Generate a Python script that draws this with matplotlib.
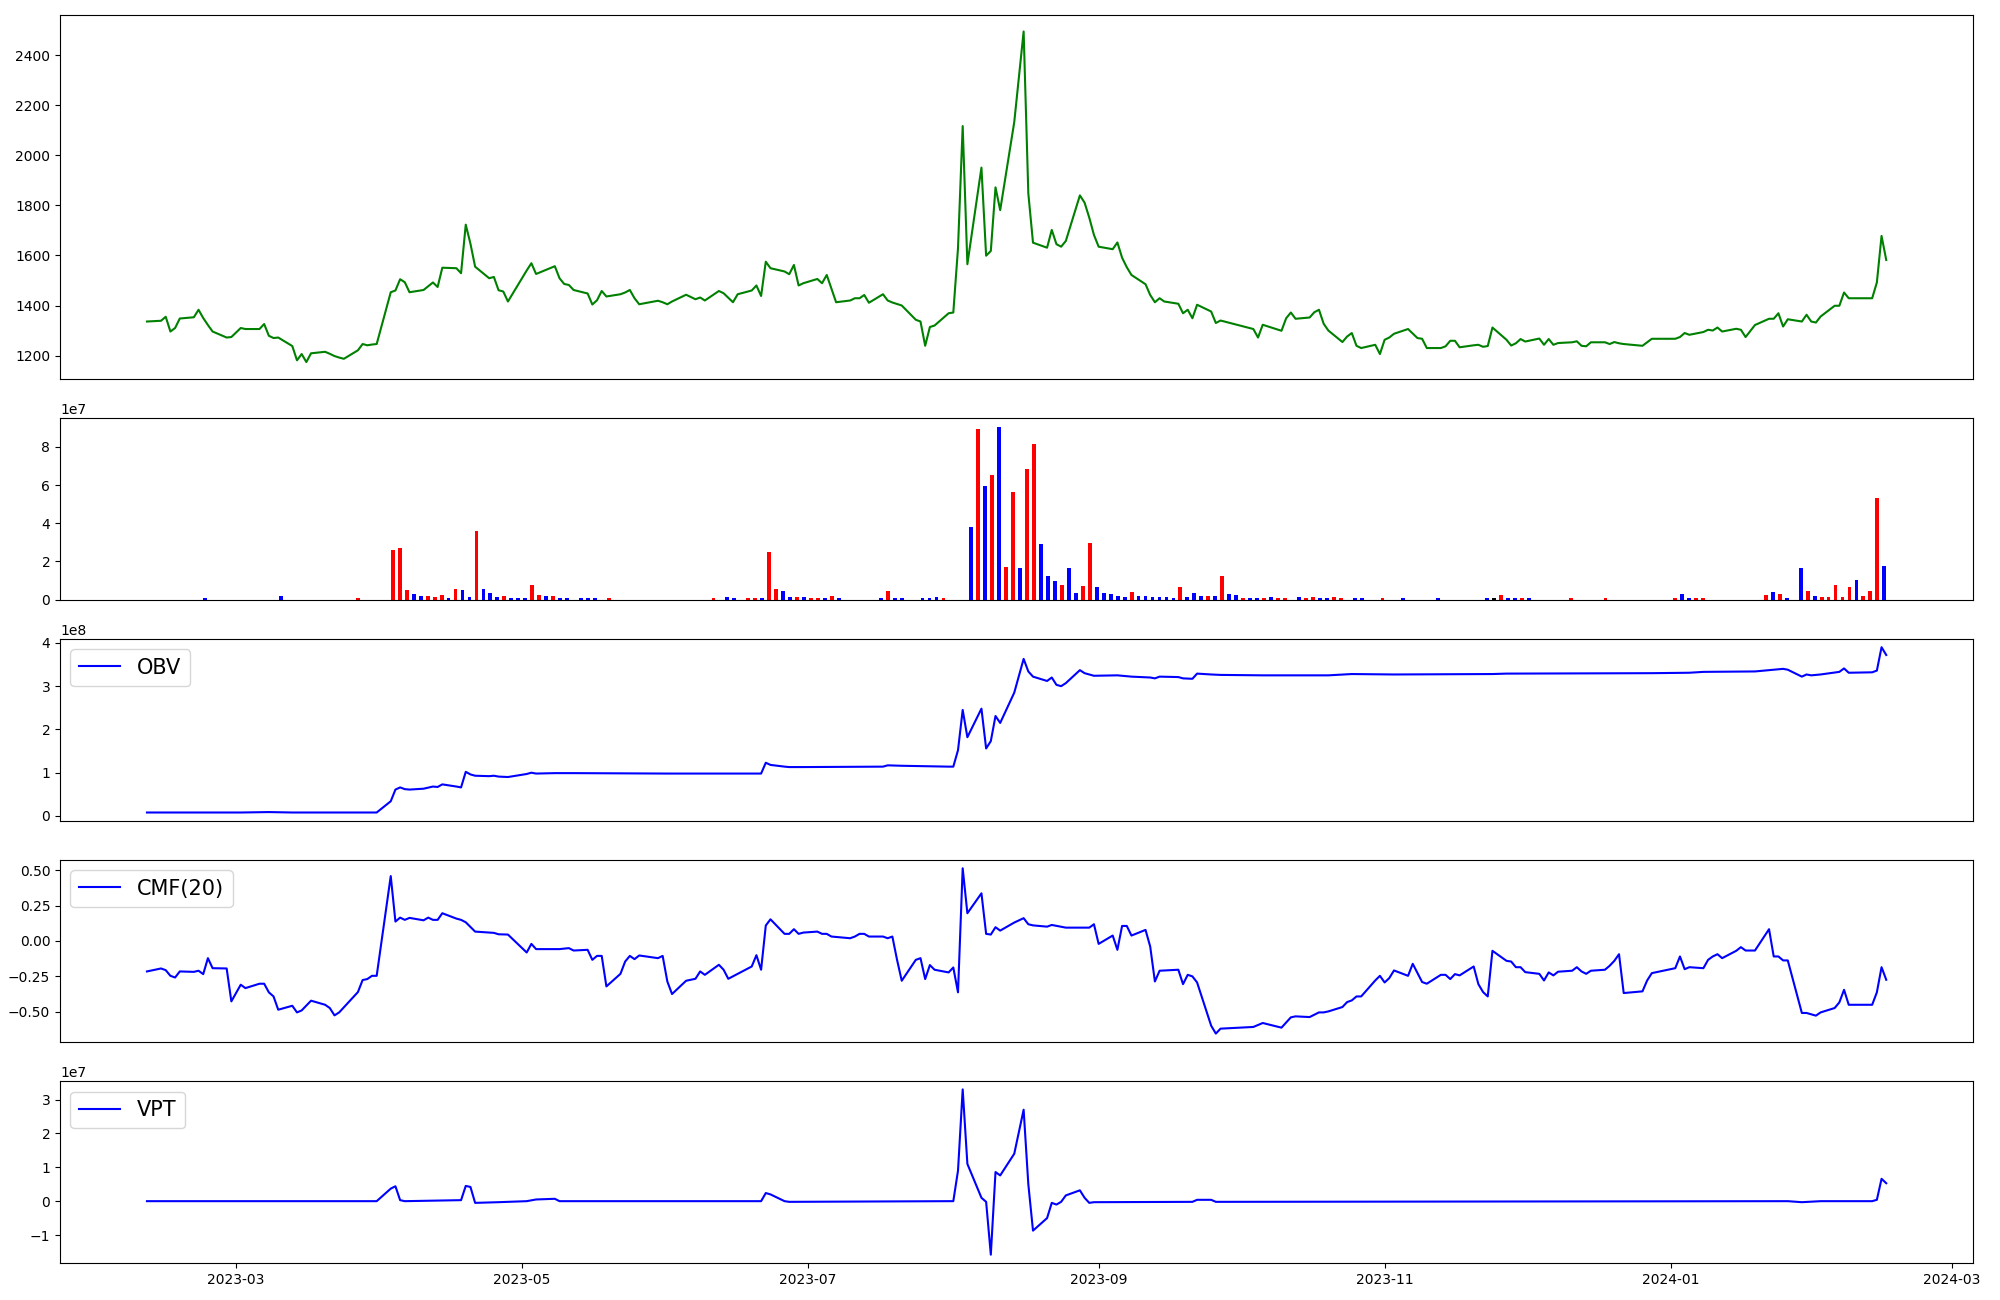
import matplotlib
matplotlib.use("Agg")
import matplotlib.pyplot as plt
import numpy as np
import pandas as pd

# ---------------- data ----------------
price_dates = [
    "2023-02-10","2023-02-13","2023-02-14","2023-02-15","2023-02-16","2023-02-17","2023-02-20","2023-02-21",
    "2023-02-22","2023-02-23","2023-02-24","2023-02-27","2023-02-28","2023-03-02","2023-03-03","2023-03-06",
    "2023-03-07","2023-03-08","2023-03-09","2023-03-10","2023-03-13","2023-03-14","2023-03-15","2023-03-16",
    "2023-03-17","2023-03-20","2023-03-21","2023-03-22","2023-03-23","2023-03-24","2023-03-27","2023-03-28",
    "2023-03-29","2023-03-30","2023-03-31","2023-04-03","2023-04-04","2023-04-05","2023-04-06","2023-04-07",
    "2023-04-10","2023-04-11","2023-04-12","2023-04-13","2023-04-14","2023-04-17","2023-04-18","2023-04-19",
    "2023-04-20","2023-04-21","2023-04-24","2023-04-25","2023-04-26","2023-04-27","2023-04-28","2023-05-02",
    "2023-05-03","2023-05-04","2023-05-08","2023-05-09","2023-05-10","2023-05-11","2023-05-12","2023-05-15",
    "2023-05-16","2023-05-17","2023-05-18","2023-05-19","2023-05-22","2023-05-23","2023-05-24","2023-05-25",
    "2023-05-26","2023-05-30","2023-05-31","2023-06-01","2023-06-02","2023-06-05","2023-06-07","2023-06-08",
    "2023-06-09","2023-06-12","2023-06-13","2023-06-14","2023-06-15","2023-06-16","2023-06-19","2023-06-20",
    "2023-06-21","2023-06-22","2023-06-23","2023-06-26","2023-06-27","2023-06-28","2023-06-29","2023-06-30",
    "2023-07-03","2023-07-04","2023-07-05","2023-07-06","2023-07-07","2023-07-10","2023-07-11","2023-07-12",
    "2023-07-13","2023-07-14","2023-07-17","2023-07-18","2023-07-19","2023-07-20","2023-07-21","2023-07-24",
    "2023-07-25","2023-07-26","2023-07-27","2023-07-28","2023-07-31","2023-08-01","2023-08-02","2023-08-03",
    "2023-08-04","2023-08-07","2023-08-08","2023-08-09","2023-08-10","2023-08-11","2023-08-14","2023-08-16",
    "2023-08-17","2023-08-18","2023-08-21","2023-08-22","2023-08-23","2023-08-24","2023-08-25","2023-08-28",
    "2023-08-29","2023-08-30","2023-08-31","2023-09-01","2023-09-04","2023-09-05","2023-09-06","2023-09-07",
    "2023-09-08","2023-09-11","2023-09-12","2023-09-13","2023-09-14","2023-09-15","2023-09-18","2023-09-19",
    "2023-09-20","2023-09-21","2023-09-22","2023-09-25","2023-09-26","2023-09-27","2023-10-04","2023-10-05",
    "2023-10-06","2023-10-10","2023-10-11","2023-10-12","2023-10-13","2023-10-16","2023-10-17","2023-10-18",
    "2023-10-19","2023-10-20","2023-10-23","2023-10-24","2023-10-25","2023-10-26","2023-10-27","2023-10-30",
    "2023-10-31","2023-11-01","2023-11-02","2023-11-03","2023-11-06","2023-11-07","2023-11-08","2023-11-09",
    "2023-11-10","2023-11-13","2023-11-14","2023-11-15","2023-11-16","2023-11-17","2023-11-20","2023-11-21",
    "2023-11-22","2023-11-23","2023-11-24","2023-11-27","2023-11-28","2023-11-29","2023-11-30","2023-12-01",
    "2023-12-04","2023-12-05","2023-12-06","2023-12-07","2023-12-08","2023-12-11","2023-12-12","2023-12-13",
    "2023-12-14","2023-12-15","2023-12-18","2023-12-19","2023-12-20","2023-12-21","2023-12-22","2023-12-26",
    "2023-12-27","2023-12-28","2024-01-02","2024-01-03","2024-01-04","2024-01-05","2024-01-08","2024-01-09",
    "2024-01-10","2024-01-11","2024-01-12","2024-01-15","2024-01-16","2024-01-17","2024-01-18","2024-01-19",
    "2024-01-22","2024-01-23","2024-01-24","2024-01-25","2024-01-26","2024-01-29","2024-01-30","2024-01-31",
    "2024-02-01","2024-02-02","2024-02-05","2024-02-06","2024-02-07","2024-02-08","2024-02-13","2024-02-14",
    "2024-02-15","2024-02-16",
]
price_values = [
    1336,1339,1355,1296,1310,1348,1353,1383,
    1350,1322,1296,1272,1274,1310,1306,1306,
    1326,1279,1270,1272,1238,1181,1206,1174,
    1209,1215,1207,1198,1192,1187,1221,1246,
    1241,1244,1246,1453,1460,1505,1493,1453,
    1462,1477,1492,1474,1551,1549,1529,1723,
    1647,1555,1509,1514,1461,1456,1416,1540,
    1569,1526,1557,1509,1486,1482,1462,1448,
    1404,1421,1458,1436,1445,1452,1462,1429,
    1405,1419,1413,1405,1416,1443,1425,1432,
    1420,1458,1449,1431,1413,1445,1460,1480,
    1438,1575,1549,1536,1525,1562,1480,1489,
    1506,1489,1522,1468,1413,1420,1429,1429,
    1442,1411,1445,1420,1412,1406,1400,1343,
    1336,1239,1314,1320,1369,1372,1629,2117,
    1565,1951,1599,1618,1872,1781,2133,2495,
    1848,1651,1631,1702,1645,1635,1658,1840,
    1811,1751,1682,1635,1625,1652,1591,1553,
    1522,1485,1442,1413,1429,1416,1407,1369,
    1383,1349,1403,1376,1330,1340,1306,1272,
    1323,1299,1349,1372,1347,1352,1373,1383,
    1327,1300,1254,1276,1290,1239,1230,1243,
    1206,1263,1272,1287,1306,1288,1270,1267,
    1230,1230,1237,1259,1259,1233,1241,1243,
    1235,1238,1312,1263,1240,1249,1266,1256,
    1268,1243,1266,1243,1250,1253,1257,1239,
    1237,1253,1253,1246,1254,1249,1246,1239,
    1253,1267,1267,1274,1290,1283,1294,1303,
    1300,1312,1296,1307,1303,1274,1298,1322,
    1347,1347,1369,1316,1345,1336,1363,1336,
    1332,1356,1399,1399,1452,1429,1429,1492,
    1678,1582,
]

# volume: trading-day number (0 = first session) -> volume, bar colour
vol_index = [
    8,19,30,35,36,37,38,39,40,41,42,43,44,45,46,47,48,49,50,51,52,53,54,55,56,57,58,59,60,62,63,64,66,
    81,83,84,86,87,88,89,90,91,92,93,94,95,96,97,98,99,105,106,107,108,111,112,113,114,
    118,119,120,121,122,123,124,125,126,127,128,129,130,131,132,133,134,135,136,137,138,139,140,
    141,142,143,144,145,146,147,148,149,150,151,152,153,154,155,156,157,158,159,160,161,162,163,
    165,166,167,168,169,170,171,173,174,177,180,185,192,193,194,195,196,197,198,204,209,
    219,220,221,222,223,232,233,234,235,237,238,239,240,241,242,243,244,245,246,247,248,249,
]
vol_values = [
    0.08e7,0.18e7,0.08e7,2.59e7,2.69e7,0.50e7,0.29e7,0.18e7,0.18e7,0.13e7,0.24e7,0.08e7,0.55e7,0.50e7,0.13e7,3.58e7,
    0.55e7,0.34e7,0.13e7,0.18e7,0.08e7,0.08e7,0.08e7,0.76e7,0.24e7,0.18e7,0.18e7,0.08e7,0.08e7,0.08e7,0.08e7,0.08e7,0.08e7,
    0.08e7,0.13e7,0.08e7,0.08e7,0.08e7,0.08e7,2.50e7,0.55e7,0.44e7,0.13e7,0.13e7,0.13e7,0.08e7,0.08e7,0.08e7,0.18e7,0.08e7,
    0.08e7,0.44e7,0.08e7,0.08e7,0.08e7,0.08e7,0.13e7,0.08e7,
    3.79e7,8.96e7,5.98e7,6.51e7,9.07e7,1.70e7,5.62e7,1.64e7,6.87e7,8.13e7,2.90e7,1.23e7,0.97e7,0.76e7,1.64e7,0.34e7,
    0.71e7,2.95e7,0.65e7,0.34e7,0.29e7,0.18e7,0.13e7,
    0.39e7,0.18e7,0.18e7,0.13e7,0.13e7,0.13e7,0.08e7,0.65e7,0.13e7,0.34e7,0.18e7,0.18e7,0.18e7,1.23e7,0.29e7,0.24e7,
    0.08e7,0.08e7,0.08e7,0.08e7,0.13e7,0.08e7,0.08e7,
    0.13e7,0.08e7,0.13e7,0.08e7,0.08e7,0.13e7,0.08e7,0.08e7,0.08e7,0.08e7,0.08e7,0.08e7,0.08e7,0.08e7,0.24e7,0.08e7,
    0.08e7,0.08e7,0.08e7,0.08e7,0.08e7,
    0.08e7,0.29e7,0.08e7,0.08e7,0.08e7,0.24e7,0.39e7,0.29e7,0.08e7,1.65e7,0.44e7,0.18e7,0.13e7,0.13e7,0.76e7,0.13e7,
    0.65e7,1.02e7,0.18e7,0.44e7,5.30e7,1.75e7,
]
vol_colors = [
    "b","b","r","r","r","r","b","b","r","r","r","b","r","b","b","r","b","b","b","r","b","b","b","r","r","b","r","b","b","b","b","b","r",
    "r","b","b","r","r","b","r","r","b","b","r","b","r","r","b","r","b","b","r","b","b","b","b","b","r",
    "b","r","b","r","b","r","r","b","r","r","b","b","b","r","b","b","r","r","b","b","b","b","b",
    "r","b","b","b","b","b","b","r","b","b","b","r","b","r","b","b","r","b","b","r","b","r","r",
    "b","r","r","b","b","r","r","b","b","r","b","b","b","k","r","b","b","r","b","r","r",
    "r","b","b","r","r","r","b","r","b","b","r","b","r","r","r","r","r","b","r","r","r","b",
]
n_sessions = 250

obv_dates = [
    "2023-02-10","2023-03-02","2023-03-08","2023-03-13","2023-03-31","2023-04-03","2023-04-04","2023-04-05",
    "2023-04-06","2023-04-07","2023-04-10","2023-04-12","2023-04-13","2023-04-14","2023-04-17","2023-04-18",
    "2023-04-19","2023-04-20","2023-04-21","2023-04-24","2023-04-25","2023-04-26","2023-04-28","2023-05-02",
    "2023-05-03","2023-05-04","2023-05-08","2023-05-12","2023-06-01","2023-06-21","2023-06-22","2023-06-23",
    "2023-06-26","2023-06-27","2023-06-30","2023-07-17","2023-07-18","2023-07-21","2023-07-31","2023-08-01",
    "2023-08-02","2023-08-03","2023-08-04","2023-08-07","2023-08-08","2023-08-09","2023-08-10","2023-08-11",
    "2023-08-14","2023-08-16","2023-08-17","2023-08-18","2023-08-21","2023-08-22","2023-08-23","2023-08-24",
    "2023-08-25","2023-08-28","2023-08-29","2023-08-30","2023-08-31","2023-09-05","2023-09-08","2023-09-12",
    "2023-09-13","2023-09-14","2023-09-18","2023-09-19","2023-09-21","2023-09-22","2023-09-25","2023-09-27",
    "2023-10-06","2023-10-20","2023-10-25","2023-11-03","2023-11-24","2023-11-27","2023-12-28","2024-01-05",
    "2024-01-08","2024-01-19","2024-01-22","2024-01-25","2024-01-26","2024-01-29","2024-01-30","2024-01-31",
    "2024-02-02","2024-02-06","2024-02-07","2024-02-08","2024-02-13","2024-02-14","2024-02-15","2024-02-16",
]
obv_values = [
    0.08e8,0.08e8,0.09e8,0.08e8,0.08e8,0.34e8,0.61e8,0.66e8,
    0.62e8,0.61e8,0.63e8,0.68e8,0.67e8,0.73e8,0.68e8,0.66e8,
    1.02e8,0.96e8,0.93e8,0.92e8,0.93e8,0.91e8,0.90e8,0.97e8,
    1.00e8,0.98e8,0.99e8,0.99e8,0.98e8,0.98e8,1.23e8,1.18e8,
    1.14e8,1.13e8,1.13e8,1.14e8,1.17e8,1.16e8,1.14e8,1.14e8,
    1.52e8,2.45e8,1.82e8,2.48e8,1.56e8,1.73e8,2.31e8,2.15e8,
    2.85e8,3.63e8,3.34e8,3.22e8,3.12e8,3.20e8,3.03e8,3.00e8,
    3.07e8,3.37e8,3.30e8,3.27e8,3.24e8,3.25e8,3.22e8,3.20e8,
    3.18e8,3.22e8,3.21e8,3.18e8,3.17e8,3.29e8,3.27e8,3.26e8,
    3.25e8,3.25e8,3.28e8,3.27e8,3.28e8,3.29e8,3.30e8,3.31e8,
    3.33e8,3.34e8,3.37e8,3.40e8,3.38e8,3.22e8,3.27e8,3.25e8,
    3.27e8,3.33e8,3.41e8,3.31e8,3.32e8,3.36e8,3.90e8,3.72e8,
]

cmf_dates = [
    "2023-02-10","2023-02-13","2023-02-14","2023-02-15","2023-02-16","2023-02-17","2023-02-20","2023-02-21",
    "2023-02-22","2023-02-23","2023-02-24","2023-02-27","2023-02-28","2023-03-02","2023-03-03","2023-03-06",
    "2023-03-07","2023-03-08","2023-03-09","2023-03-10","2023-03-13","2023-03-14","2023-03-15","2023-03-17",
    "2023-03-20","2023-03-21","2023-03-22","2023-03-23","2023-03-27","2023-03-28","2023-03-29","2023-03-30",
    "2023-03-31","2023-04-03","2023-04-04","2023-04-05","2023-04-06","2023-04-07","2023-04-10","2023-04-11",
    "2023-04-12","2023-04-13","2023-04-14","2023-04-17","2023-04-18","2023-04-19","2023-04-21","2023-04-25",
    "2023-04-26","2023-04-28","2023-05-02","2023-05-03","2023-05-04","2023-05-09","2023-05-11","2023-05-12",
    "2023-05-15","2023-05-16","2023-05-17","2023-05-18","2023-05-19","2023-05-22","2023-05-23","2023-05-24",
    "2023-05-25","2023-05-26","2023-05-30","2023-05-31","2023-06-01","2023-06-02","2023-06-05","2023-06-07",
    "2023-06-08","2023-06-09","2023-06-12","2023-06-13","2023-06-14","2023-06-19","2023-06-20","2023-06-21",
    "2023-06-22","2023-06-23","2023-06-26","2023-06-27","2023-06-28","2023-06-29","2023-06-30","2023-07-03",
    "2023-07-04","2023-07-05","2023-07-06","2023-07-10","2023-07-11","2023-07-12","2023-07-13","2023-07-14",
    "2023-07-17","2023-07-18","2023-07-19","2023-07-20","2023-07-21","2023-07-24","2023-07-25","2023-07-26",
    "2023-07-27","2023-07-28","2023-07-31","2023-08-01","2023-08-02","2023-08-03","2023-08-04","2023-08-07",
    "2023-08-08","2023-08-09","2023-08-10","2023-08-11","2023-08-14","2023-08-16","2023-08-17","2023-08-18",
    "2023-08-21","2023-08-22","2023-08-25","2023-08-30","2023-08-31","2023-09-01","2023-09-04","2023-09-05",
    "2023-09-06","2023-09-07","2023-09-08","2023-09-11","2023-09-12","2023-09-13","2023-09-14","2023-09-18",
    "2023-09-19","2023-09-20","2023-09-21","2023-09-22","2023-09-25","2023-09-26","2023-09-27","2023-10-04",
    "2023-10-06","2023-10-10","2023-10-12","2023-10-13","2023-10-16","2023-10-18","2023-10-19","2023-10-20",
    "2023-10-23","2023-10-24","2023-10-25","2023-10-26","2023-10-27","2023-10-30","2023-10-31","2023-11-01",
    "2023-11-02","2023-11-03","2023-11-06","2023-11-07","2023-11-09","2023-11-10","2023-11-13","2023-11-14",
    "2023-11-15","2023-11-16","2023-11-17","2023-11-20","2023-11-21","2023-11-22","2023-11-23","2023-11-24",
    "2023-11-27","2023-11-28","2023-11-29","2023-11-30","2023-12-01","2023-12-04","2023-12-05","2023-12-06",
    "2023-12-07","2023-12-08","2023-12-11","2023-12-12","2023-12-13","2023-12-14","2023-12-15","2023-12-18",
    "2023-12-19","2023-12-20","2023-12-21","2023-12-22","2023-12-26","2023-12-27","2023-12-28","2024-01-02",
    "2024-01-03","2024-01-04","2024-01-05","2024-01-08","2024-01-09","2024-01-10","2024-01-11","2024-01-12",
    "2024-01-15","2024-01-16","2024-01-17","2024-01-18","2024-01-19","2024-01-22","2024-01-23","2024-01-24",
    "2024-01-25","2024-01-26","2024-01-29","2024-01-30","2024-02-01","2024-02-02","2024-02-05","2024-02-06",
    "2024-02-07","2024-02-08","2024-02-13","2024-02-14","2024-02-15","2024-02-16",
]
cmf_values = [
    -0.216,-0.195,-0.207,-0.247,-0.259,-0.216,-0.219,-0.211,
    -0.235,-0.122,-0.193,-0.195,-0.428,-0.310,-0.334,-0.303,
    -0.303,-0.364,-0.393,-0.487,-0.459,-0.506,-0.492,-0.423,
    -0.452,-0.475,-0.527,-0.506,-0.362,-0.277,-0.270,-0.247,
    -0.247,0.459,0.137,0.165,0.149,0.163,0.146,0.165,
    0.149,0.149,0.196,0.158,0.149,0.132,0.066,0.057,
    0.047,0.045,-0.082,-0.021,-0.058,-0.058,-0.051,-0.068,
    -0.063,-0.134,-0.106,-0.106,-0.322,-0.233,-0.146,-0.106,
    -0.129,-0.103,-0.122,-0.106,-0.287,-0.376,-0.282,-0.268,
    -0.216,-0.240,-0.169,-0.204,-0.268,-0.181,-0.101,-0.204,
    0.109,0.153,0.050,0.050,0.083,0.050,0.059,0.066,
    0.050,0.050,0.031,0.019,0.031,0.050,0.050,0.031,
    0.031,0.019,0.031,-0.134,-0.282,-0.134,-0.122,-0.270,
    -0.171,-0.204,-0.223,-0.188,-0.364,0.514,0.196,0.337,
    0.050,0.045,0.097,0.073,0.130,0.161,0.118,0.110,
    0.101,0.113,0.094,0.094,0.118,-0.021,0.038,-0.063,
    0.106,0.106,0.038,0.078,-0.040,-0.287,-0.211,-0.204,
    -0.306,-0.240,-0.251,-0.294,-0.600,-0.656,-0.621,-0.609,
    -0.581,-0.614,-0.541,-0.534,-0.539,-0.506,-0.506,-0.499,
    -0.468,-0.433,-0.421,-0.393,-0.393,-0.280,-0.247,-0.294,
    -0.263,-0.209,-0.247,-0.162,-0.291,-0.303,-0.240,-0.240,
    -0.270,-0.235,-0.244,-0.181,-0.306,-0.362,-0.393,-0.070,
    -0.141,-0.146,-0.186,-0.186,-0.221,-0.233,-0.280,-0.223,
    -0.244,-0.218,-0.211,-0.186,-0.216,-0.233,-0.211,-0.204,
    -0.176,-0.141,-0.094,-0.369,-0.357,-0.280,-0.228,-0.193,
    -0.110,-0.200,-0.186,-0.193,-0.134,-0.110,-0.094,-0.122,
    -0.070,-0.044,-0.068,-0.068,-0.068,0.083,-0.110,-0.110,
    -0.138,-0.138,-0.510,-0.510,-0.529,-0.506,-0.475,-0.435,
    -0.346,-0.452,-0.452,-0.364,-0.186,-0.275,
]

vpt_dates = [
    "2023-02-10","2023-03-31","2023-04-03","2023-04-04","2023-04-05","2023-04-06","2023-04-14","2023-04-18",
    "2023-04-19","2023-04-20","2023-04-21","2023-04-26","2023-05-02","2023-05-04","2023-05-08","2023-05-09",
    "2023-06-21","2023-06-22","2023-06-23","2023-06-26","2023-06-27","2023-07-31","2023-08-01","2023-08-02",
    "2023-08-03","2023-08-04","2023-08-07","2023-08-08","2023-08-09","2023-08-10","2023-08-11","2023-08-14",
    "2023-08-16","2023-08-17","2023-08-18","2023-08-21","2023-08-22","2023-08-23","2023-08-24","2023-08-25",
    "2023-08-28","2023-08-29","2023-08-30","2023-08-31","2023-09-21","2023-09-22","2023-09-25","2023-09-26",
    "2024-01-26","2024-01-29","2024-02-02","2024-02-13","2024-02-14","2024-02-15","2024-02-16",
]
vpt_values = [
    0.0,0.0,0.37e7,0.44e7,0.03e7,0.0,0.02e7,0.03e7,
    0.45e7,0.42e7,-0.05e7,-0.03e7,0.0,0.05e7,0.07e7,0.0,
    0.0,0.24e7,0.20e7,0.0,-0.02e7,0.0,0.0,0.9e7,
    3.3e7,1.1e7,0.1e7,-0.02e7,-1.58e7,0.86e7,0.76e7,1.4e7,
    2.7e7,0.5e7,-0.87e7,-0.5e7,-0.05e7,-0.1e7,-0.02e7,0.17e7,
    0.32e7,0.1e7,-0.05e7,-0.03e7,-0.02e7,0.04e7,0.04e7,-0.02e7,
    0.0,-0.03e7,0.0,0.0,0.04e7,0.66e7,0.53e7,
]

# ---------------- plot ----------------
color_map = {"r": "red", "b": "blue", "k": "black"}

fig = plt.figure(figsize=(20, 13), dpi=100)
gs = fig.add_gridspec(5, 1, height_ratios=[2, 1, 1, 1, 1],
                      left=0.030, right=0.9866, top=0.9885, bottom=0.0285, hspace=0.18)
ax_price = fig.add_subplot(gs[0])
ax_vol = fig.add_subplot(gs[1])
ax_obv = fig.add_subplot(gs[2], sharex=ax_price)
ax_cmf = fig.add_subplot(gs[3], sharex=ax_price)
ax_vpt = fig.add_subplot(gs[4], sharex=ax_price)

ax_price.plot(pd.to_datetime(price_dates), price_values, color="green", lw=1.5)

vol_full = np.zeros(n_sessions)
col_full = ["blue"] * n_sessions
for i, v, c in zip(vol_index, vol_values, vol_colors):
    vol_full[i] = v
    col_full[i] = color_map[c]
ax_vol.bar(np.arange(n_sessions), vol_full, color=col_full, width=0.55)

ax_obv.plot(pd.to_datetime(obv_dates), obv_values, color="blue", label="OBV")
ax_cmf.plot(pd.to_datetime(cmf_dates), cmf_values, color="blue", label="CMF(20)")
ax_vpt.plot(pd.to_datetime(vpt_dates), vpt_values, color="blue", label="VPT")

for ax in (ax_obv, ax_cmf, ax_vpt):
    ax.legend(loc="upper left", fontsize=15)

for ax in (ax_price, ax_vol, ax_obv, ax_cmf):
    ax.tick_params(axis="x", bottom=False, labelbottom=False)

fig.savefig("out.png", dpi=100)
